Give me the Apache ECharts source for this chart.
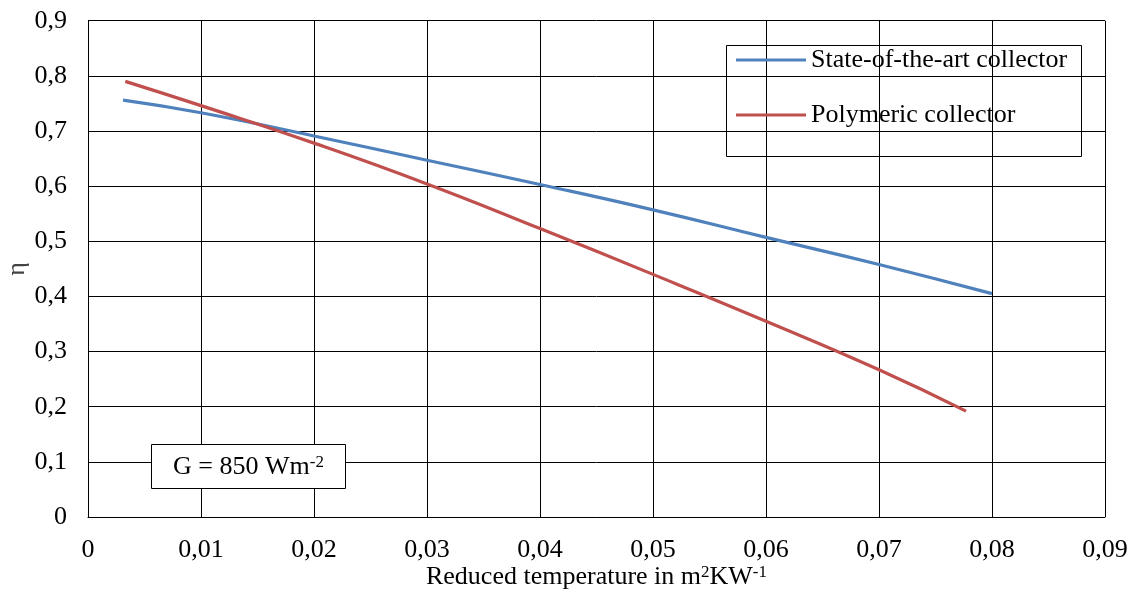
<!DOCTYPE html>
<html>
<head>
<meta charset="utf-8">
<script src="https://cdn.jsdelivr.net/npm/echarts@6/dist/echarts.min.js"></script>
<style>html,body{margin:0;padding:0;background:#fff}#c{width:1134px;height:595px}</style>
</head>
<body>
<div id="c"></div>
<script>
var seriesNames = ['State-of-the-art collector', 'Polymeric collector'];
var stateX = [0.0031, 0.01, 0.02, 0.03, 0.04, 0.05, 0.06, 0.07, 0.08];
var stateY = [0.756, 0.733, 0.691, 0.647, 0.603, 0.557, 0.507, 0.458, 0.405];
var polyX = [0.0033, 0.01, 0.02, 0.03, 0.04, 0.05, 0.06, 0.07, 0.0777];
var polyY = [0.790, 0.746, 0.678, 0.604, 0.523, 0.440, 0.355, 0.267, 0.192];
var xTicks = ['0', '0,01', '0,02', '0,03', '0,04', '0,05', '0,06', '0,07', '0,08', '0,09'];
var yTicks = ['0', '0,1', '0,2', '0,3', '0,4', '0,5', '0,6', '0,7', '0,8', '0,9'];

function pairs(xs, ys) { return xs.map(function (x, i) { return [x, ys[i]]; }); }
var FONT = 'Liberation Serif';
var FS = 26;
var SUP = { fontFamily: FONT, fontSize: 17, color: '#000', fill: '#000', verticalAlign: 'top', lineHeight: 26 };
var chart = echarts.init(document.getElementById('c'));
chart.setOption({
  animation: false,
  textStyle: { fontFamily: FONT, color: '#000' },
  grid: { left: 88, right: 29, top: 20.7, bottom: 78, containLabel: false, outerBoundsMode: 'none' },
  xAxis: {
    type: 'value', min: 0, max: 0.09, interval: 0.01,
    axisLine: { show: true, lineStyle: { color: '#000', width: 1 } },
    axisTick: { show: false },
    splitLine: { show: true, lineStyle: { color: '#000', width: 1 } },
    axisLabel: { fontFamily: FONT, fontSize: FS, color: '#000', margin: 20,
      formatter: function (v) { return xTicks[Math.round(v * 100)]; } },
    name: '{a|Reduced temperature in m}{s|2}{a|KW}{s|-1}',
    nameLocation: 'middle', nameGap: 47, nameMoveOverlap: false,
    nameTextStyle: { fontFamily: FONT, fontSize: FS, color: '#000',
      rich: { a: { fontFamily: FONT, fontSize: FS, color: '#000', lineHeight: 26 }, s: SUP } }
  },
  yAxis: {
    type: 'value', min: 0, max: 0.9, interval: 0.1,
    axisLine: { show: true, lineStyle: { color: '#000', width: 1 } },
    axisTick: { show: false },
    splitLine: { show: true, lineStyle: { color: '#000', width: 1 } },
    axisLabel: { fontFamily: FONT, fontSize: FS, color: '#000', margin: 21,
      formatter: function (v) { return yTicks[Math.round(v * 10)]; } },
    name: 'η', nameLocation: 'middle', nameGap: 58, nameMoveOverlap: false,
    nameTextStyle: { fontFamily: FONT, fontSize: FS, color: '#444' }
  },
  legend: {
    orient: 'vertical', left: 736, top: 47, padding: 0,
    icon: 'rect', itemWidth: 70, itemHeight: 3, itemGap: 29,
    textStyle: { fontFamily: FONT, fontSize: FS, color: '#000', lineHeight: 26 },
    data: seriesNames
  },
  series: [
    { name: seriesNames[0], type: 'line', smooth: true, showSymbol: false,
      lineStyle: { color: '#4F81BD', width: 3.2 }, itemStyle: { color: '#4F81BD' },
      data: pairs(stateX, stateY) },
    { name: seriesNames[1], type: 'line', smooth: true, showSymbol: false,
      lineStyle: { color: '#C0504D', width: 3.2 }, itemStyle: { color: '#C0504D' },
      data: pairs(polyX, polyY) }
  ],
  graphic: [
    { type: 'rect', z: 100, shape: { x: 726.5, y: 45.5, width: 355, height: 111 },
      style: { fill: 'rgba(0,0,0,0)', stroke: '#000', lineWidth: 1 } },
    { type: 'rect', z: 100, shape: { x: 151.5, y: 444.5, width: 194, height: 44 },
      style: { fill: '#fff', stroke: '#000', lineWidth: 1 } },
    { type: 'text', z: 101, x: 248.5, y: 467,
      style: { text: '{a|G = 850 Wm}{s|-2}', align: 'center', verticalAlign: 'middle',
        rich: { a: { fontFamily: FONT, fontSize: FS, fill: '#000', lineHeight: 26 }, s: SUP } } }
  ]
});
</script>
</body>
</html>
